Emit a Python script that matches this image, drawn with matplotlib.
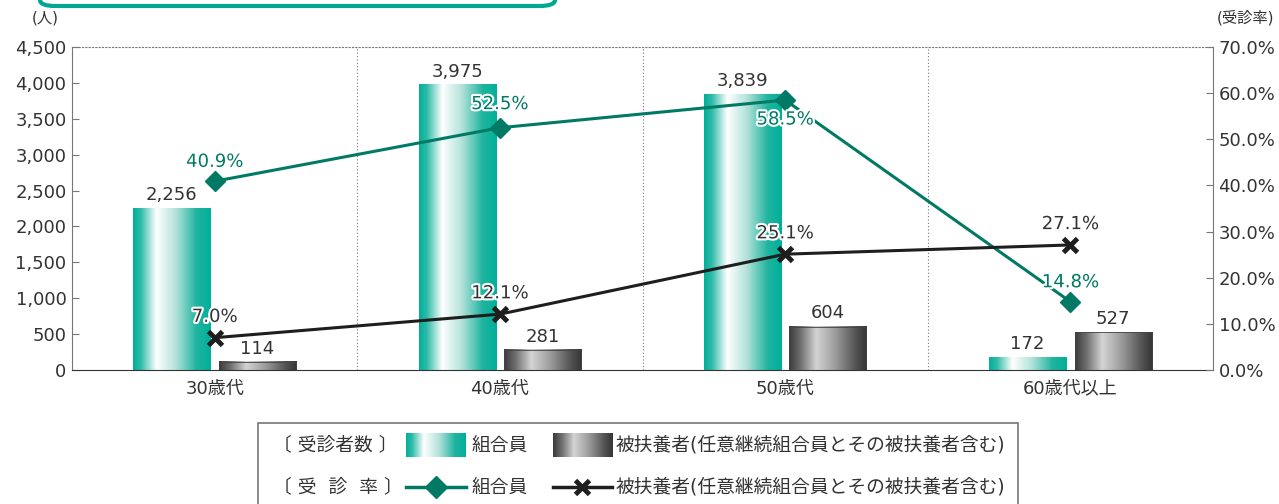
import numpy as np
import matplotlib
matplotlib.use("Agg")
from matplotlib import pyplot as plt
from matplotlib.colors import LinearSegmentedColormap
from matplotlib.patches import Rectangle, FancyBboxPatch
from matplotlib.lines import Line2D
import matplotlib.patheffects as pe

plt.rcParams['font.family'] = ['DejaVu Sans', 'Noto Sans CJK JP']

# data
categories = ["30歳代", "40歳代", "50歳代", "60歳代以上"]
members = [2256, 3975, 3839, 172]
dependents = [114, 281, 604, 527]
member_rate = [40.9, 52.5, 58.5, 14.8]
dependent_rate = [7.0, 12.1, 25.1, 27.1]
left_ticks = [0, 500, 1000, 1500, 2000, 2500, 3000, 3500, 4000, 4500]
right_ticks = [0, 10, 20, 30, 40, 50, 60, 70]
member_label = "組合員"
dependent_label = "被扶養者(任意継続組合員とその被扶養者含む)"

GREEN = "#007a64"
TEXT = "#333333"
FS = 13

teal_cmap = LinearSegmentedColormap.from_list(
    "teal", [(0, "#00b09a"), (0.1, "#2fbba8"), (0.3, "#ffffff"),
             (0.55, "#b3e2da"), (0.82, "#1fb49f"), (1, "#00b09a")])
gray_cmap = LinearSegmentedColormap.from_list(
    "gray", [(0, "#3a3a3a"), (0.15, "#707070"), (0.35, "#d4d4d4"),
             (0.6, "#9b9b9b"), (0.85, "#555555"), (1, "#353535")])
grad = np.linspace(0, 1, 256).reshape(1, -1)

fig = plt.figure(figsize=(12.79, 5.04), dpi=100)
ax = fig.add_axes([72 / 1279, 1 - 370 / 504, 1141 / 1279, 323 / 504])
ax2 = ax.twinx()

x = np.arange(len(categories))
w = 0.27
off = 0.15
b1 = ax.bar(x - off, members, w, color="none", edgecolor="none")
b2 = ax.bar(x + off, dependents, w, color="none", edgecolor="none")

# gradient fills drawn into each bar's extent
for bars, cmap, edge in [(b1, teal_cmap, "none"), (b2, gray_cmap, "#444444")]:
    for p in bars.patches:
        x0, y0 = p.get_x(), p.get_y()
        ax.imshow(grad, cmap=cmap, aspect="auto", zorder=2,
                  extent=[x0, x0 + p.get_width(), y0, y0 + p.get_height()])
        ax.add_patch(Rectangle((x0, y0), p.get_width(), p.get_height(),
                               fill=False, edgecolor=edge, lw=0.6, zorder=2.1))

for bars, vals in [(b1, members), (b2, dependents)]:
    for p, v in zip(bars.patches, vals):
        ax.annotate(f"{v:,}", (p.get_x() + p.get_width() / 2, v),
                    xytext=(0, 3), textcoords="offset points",
                    ha="center", va="bottom", fontsize=FS, color=TEXT)

ax.set_xlim(-0.5, 3.5)
ax.set_ylim(0, 4500)
ax.set_yticks(left_ticks)
ax.set_yticklabels([f"{t:,}" for t in left_ticks])
ax.set_xticks(x)
ax.set_xticklabels(categories)
ax.tick_params(axis="x", length=0, pad=7, labelsize=FS, labelcolor=TEXT)
ax.tick_params(axis="y", direction="in", length=5, color="#777777",
               labelsize=FS, labelcolor=TEXT, pad=4)
for xs in [0.5, 1.5, 2.5]:
    ax.axvline(xs, color="#777777", lw=0.8, ls=(0, (1, 2)), zorder=1)
ax.spines["top"].set_linestyle((0, (1, 2)))
ax.spines["top"].set_color("#777777")
ax.spines["left"].set_color("#777777")
ax.spines["bottom"].set_color("#333333")
ax.spines["right"].set_visible(False)
for s in ["top", "left", "bottom"]:
    ax2.spines[s].set_visible(False)
ax2.spines["right"].set_color("#777777")

ax2.plot(x, member_rate, color=GREEN, lw=2.2, marker="D", ms=10, zorder=5)
ax2.plot(x, dependent_rate, color="#1e1e1e", lw=2.2, marker="x", ms=10,
         mew=3.5, zorder=5)
ax2.set_ylim(0, 70)
ax2.set_yticks(right_ticks)
ax2.set_yticklabels([f"{t:.1f}%" for t in right_ticks])
ax2.tick_params(axis="y", direction="in", length=5, color="#777777",
                labelsize=FS, labelcolor=TEXT, pad=4)

stroke = [pe.withStroke(linewidth=3, foreground="white")]
green_offsets = [14, 17, -14, 14]
for i, v in enumerate(member_rate):
    ax2.annotate(f"{v:.1f}%", (x[i], v), xytext=(0, green_offsets[i]),
                 textcoords="offset points", ha="center", va="center",
                 fontsize=FS, color=GREEN, path_effects=stroke, zorder=6)
for i, v in enumerate(dependent_rate):
    ax2.annotate(f"{v:.1f}%", (x[i], v), xytext=(0, 15),
                 textcoords="offset points", ha="center", va="center",
                 fontsize=FS, color=TEXT, path_effects=stroke, zorder=6)

# unit labels
fig.text(45 / 1279, 1 - 18 / 504, "(人)", fontsize=11, color=TEXT,
         ha="center", va="center")
fig.text(1245 / 1279, 1 - 18 / 504, "(受診率)", fontsize=11, color=TEXT,
         ha="center", va="center")

# title frame at top (cut off)
fig.add_artist(FancyBboxPatch((40 / 1279, 1 - 6 / 504), 515 / 1279, 30 / 504,
                              boxstyle="round,pad=0,rounding_size=0.012",
                              transform=fig.transFigure, facecolor="white",
                              edgecolor="#00a890", lw=3))


def fx(px):
    return px / 1279


def fy(py):
    return 1 - py / 504


# legend box
LFS = 13.5
fig.add_artist(Rectangle((fx(258), fy(520)), fx(760), 97 / 504,
                         transform=fig.transFigure, fill=False,
                         edgecolor="#777777", lw=1.2))
row1, row2 = 445, 487
fig.text(fx(273), fy(row1), "〔 受診者数 〕", fontsize=LFS, color=TEXT, va="center")
fig.text(fx(273), fy(row2), "〔 受  診  率 〕", fontsize=LFS, color=TEXT, va="center")
for px, cmap in [(406, teal_cmap), (553, gray_cmap)]:
    lax = fig.add_axes([fx(px), fy(row1 + 12), fx(60), 24 / 504])
    lax.imshow(grad, cmap=cmap, aspect="auto")
    lax.axis("off")
fig.text(fx(472), fy(row1), member_label, fontsize=LFS, color=TEXT, va="center")
fig.text(fx(616), fy(row1), dependent_label, fontsize=LFS, color=TEXT, va="center")

fig.add_artist(Line2D([fx(406), fx(466)], [fy(row2)] * 2, transform=fig.transFigure,
                      color=GREEN, lw=2.5))
fig.add_artist(Line2D([fx(436)], [fy(row2)], transform=fig.transFigure,
                      color=GREEN, marker="D", ms=11))
fig.add_artist(Line2D([fx(553), fx(612)], [fy(row2)] * 2, transform=fig.transFigure,
                      color="#1e1e1e", lw=2.5))
fig.add_artist(Line2D([fx(582)], [fy(row2)], transform=fig.transFigure,
                      color="#1e1e1e", marker="x", ms=10, mew=3.5))
fig.text(fx(472), fy(row2), member_label, fontsize=LFS, color=TEXT, va="center")
fig.text(fx(616), fy(row2), dependent_label, fontsize=LFS, color=TEXT, va="center")

plt.savefig("out.png", dpi=100)
